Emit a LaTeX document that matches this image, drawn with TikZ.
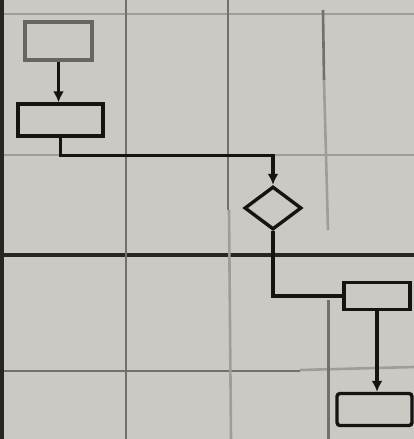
\documentclass[tikz,border=0pt]{standalone}
\usetikzlibrary{shapes.geometric,arrows.meta}
\definecolor{paper}{RGB}{204,201,197}
\definecolor{ink}{RGB}{22,20,19}
\definecolor{faded}{RGB}{105,101,98}
\definecolor{gridlt}{RGB}{160,157,153}
\definecolor{gridmd}{RGB}{115,112,108}
\definecolor{griddk}{RGB}{40,38,36}
\begin{document}
\begin{tikzpicture}[x=1pt,y=-1pt,
  flowbox/.style={draw=ink,line width=3.4pt,inner sep=0pt},
  decision/.style={draw=ink,line width=3.4pt,diamond,inner sep=0pt,minimum width=57pt,minimum height=43pt},
  link/.style={draw=ink,line width=3.4pt},
  arrowlink/.style={link,-{Latex[length=11pt,width=11pt]}},
  gridline/.style={line width=2.6pt}]
\useasboundingbox (0,0) rectangle (414,439);
\fill[paper] (0,0) rectangle (414,439);
% grid
\draw[gridline,draw=gridlt] (0,14) -- (414,14);
\draw[gridline,draw=gridlt] (0,155) -- (414,155);
\draw[gridline,draw=griddk,line width=3.4pt] (0,255) -- (414,255);
\draw[gridline,draw=gridmd] (0,371) -- (300,371);
\draw[gridline,draw=gridlt] (300,370) -- (414,367);
\draw[gridline,draw=griddk,line width=3.6pt] (2,0) -- (2,439);
\draw[gridline,draw=gridmd] (126,0) -- (126,439);
\draw[gridline,draw=gridmd] (228,0) -- (228,210);
\draw[gridline,draw=gridlt] (229,210) -- (231,439);
\draw[gridline,draw=gridmd] (323,10) -- (324,80);
\draw[gridline,draw=gridlt] (324,80) -- (328,230);
\draw[gridline,draw=gridmd,line width=3pt] (328,300) -- (328,439);
% nodes
\node[flowbox,draw=faded,minimum width=67pt,minimum height=38pt] (b1) at (58.5,41) {};
\node[flowbox,minimum width=85pt,minimum height=32pt] (b2) at (60.5,120) {};
\node[decision] (d) at (273,208) {};
\node[flowbox,minimum width=66pt,minimum height=27pt] (b3) at (377,296) {};
\node[flowbox,rounded corners=3pt,minimum width=75pt,minimum height=32pt] (b4) at (374.5,409.5) {};
% connectors
\draw[arrowlink] (b1.south) -- (b1.south |- b2.north);
\draw[arrowlink] (b2.south) -- ++(0,18) -| (d.north);
\draw[link] (d.south) |- (b3.west);
\draw[arrowlink] (b3.south) -- (b3.south |- b4.north);
\end{tikzpicture}
\end{document}
